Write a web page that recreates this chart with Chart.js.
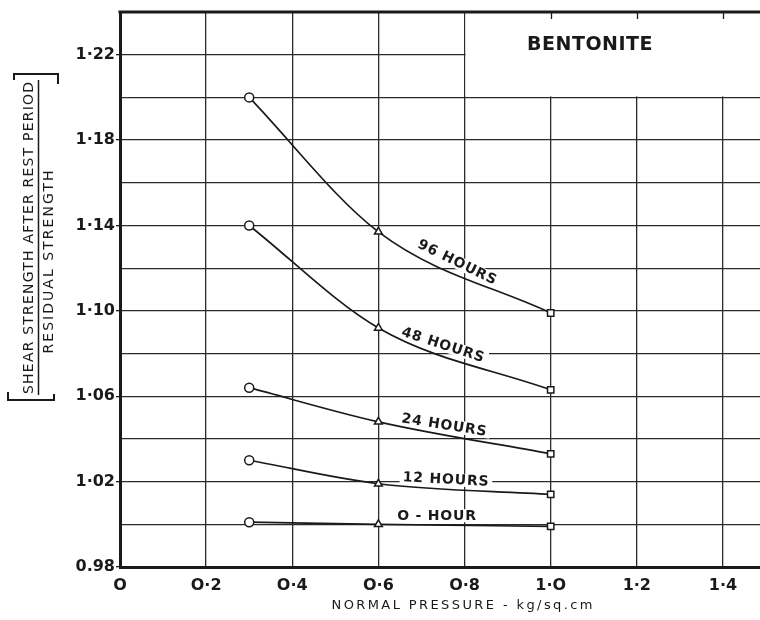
<!DOCTYPE html>
<html>
<head>
<meta charset="utf-8">
<script src="https://cdn.jsdelivr.net/npm/chart.js@4.4.1/dist/chart.umd.min.js"></script>
<style>
  html, body { margin: 0; padding: 0; background: #ffffff; }
  #wrap { width: 760px; height: 620px; }
</style>
</head>
<body>
<div id="wrap"><canvas id="c" width="760" height="620"></canvas></div>
<script>
// Normal pressure (kg/sq.cm) at which each rest-period test was run
const pressure = [0.3, 0.6, 1.0];

// Ratio: shear strength after rest period / residual strength
const hours96 = [1.200, 1.137, 1.099];
const hours48 = [1.140, 1.092, 1.063];
const hours24 = [1.064, 1.048, 1.033];
const hours12 = [1.030, 1.019, 1.014];
const hours0  = [1.001, 1.000, 0.999];

const seriesNames = ['96 HOURS', '48 HOURS', '24 HOURS', '12 HOURS', 'O - HOUR'];

// Axis tick labels
const xTickValues = [0, 0.2, 0.4, 0.6, 0.8, 1.0, 1.2, 1.4];
const xTickText   = ['O', 'O·2', 'O·4', 'O·6', 'O·8', '1·O', '1·2', '1·4'];
const yTickValues = [0.98, 1.02, 1.06, 1.10, 1.14, 1.18, 1.22];
const yTickText   = ['0.98', '1·02', '1·06', '1·10', '1·14', '1·18', '1·22'];

// Marker shapes used at each pressure
const markerShapes = ['circle', 'triangle', 'rect'];

const INK = '#1a1a1a';
const FONT = '"DejaVu Sans", sans-serif';

function toPoints(vals) {
  return pressure.map((p, i) => ({ x: p, y: vals[i] }));
}

function series(name, vals) {
  return {
    label: name,
    data: toPoints(vals),
    borderColor: INK,
    borderWidth: 1.7,
    backgroundColor: '#ffffff',
    pointStyle: markerShapes,
    pointRadius: 4.5,
    pointBorderWidth: 1.5,
    pointBorderColor: INK,
    pointBackgroundColor: '#ffffff',
    cubicInterpolationMode: 'monotone',
    fill: false
  };
}

function labelIndex(list, value) {
  return list.findIndex(v => Math.abs(v - value) < 1e-6);
}

// Curve captions placed along each line (data coordinates + rotation in degrees)
const captions = [
  { text: seriesNames[0], x: 0.783, y: 1.1225, angle: 26 },
  { text: seriesNames[1], x: 0.750, y: 1.0838, angle: 18 },
  { text: seriesNames[2], x: 0.753, y: 1.0463, angle: 9 },
  { text: seriesNames[3], x: 0.757, y: 1.0208, angle: 3 },
  { text: seriesNames[4], x: 0.736, y: 1.0038, angle: 0 }
];

function setCaptionFont(ctx) {
  ctx.font = 'bold 14px ' + FONT;
  ctx.letterSpacing = '0.8px';
}

function spacedText(ctx, text, cx, cy, target, font, rotate) {
  ctx.save();
  ctx.font = font;
  ctx.letterSpacing = '0px';
  const w0 = ctx.measureText(text).width;
  const sp = Math.max(0, (target - w0) / (text.length - 1));
  ctx.letterSpacing = sp.toFixed(2) + 'px';
  ctx.translate(cx, cy);
  if (rotate) ctx.rotate(-Math.PI / 2);
  ctx.textAlign = 'center';
  ctx.textBaseline = 'middle';
  ctx.fillText(text, sp / 2, 0);
  ctx.restore();
}

const decorations = {
  id: 'decorations',
  beforeDatasetsDraw(chart) {
    const { ctx, chartArea, scales } = chart;
    const xs = scales.x, ys = scales.y;
    ctx.save();
    // title panel in the upper right corner
    const bx = xs.getPixelForValue(0.8);
    const by = ys.getPixelForValue(1.20);
    ctx.fillStyle = '#ffffff';
    ctx.fillRect(bx + 1, chartArea.top + 1, chartArea.right - bx, by - chartArea.top - 2);
    ctx.strokeStyle = INK;
    ctx.lineWidth = 1.3;
    [1.0, 1.2, 1.4].forEach(v => {
      const px = Math.round(xs.getPixelForValue(v)) + 0.5;
      ctx.beginPath();
      ctx.moveTo(px, chartArea.top);
      ctx.lineTo(px, chartArea.top + 7);
      ctx.stroke();
    });
    // knock the grid out behind each caption
    setCaptionFont(ctx);
    ctx.fillStyle = '#ffffff';
    captions.forEach(c => {
      const px = xs.getPixelForValue(c.x), py = ys.getPixelForValue(c.y);
      const w = ctx.measureText(c.text).width + 6;
      ctx.save();
      ctx.translate(px, py);
      ctx.rotate(c.angle * Math.PI / 180);
      ctx.fillRect(-w / 2, -7, w, 13);
      ctx.restore();
    });
    ctx.restore();
  },
  afterDatasetsDraw(chart) {
    const { ctx, scales } = chart;
    const xs = scales.x, ys = scales.y;
    ctx.save();
    setCaptionFont(ctx);
    ctx.fillStyle = INK;
    ctx.textAlign = 'center';
    ctx.textBaseline = 'middle';
    captions.forEach(c => {
      const px = xs.getPixelForValue(c.x), py = ys.getPixelForValue(c.y);
      ctx.save();
      ctx.translate(px, py);
      ctx.rotate(c.angle * Math.PI / 180);
      ctx.fillText(c.text, 0, 0);
      ctx.restore();
    });
    ctx.restore();
  },
  afterDraw(chart) {
    const { ctx, chartArea } = chart;
    ctx.save();
    // heavy top frame line
    ctx.strokeStyle = INK;
    ctx.lineWidth = 3;
    ctx.beginPath();
    ctx.moveTo(chartArea.left - 1.5, chartArea.top);
    ctx.lineTo(chartArea.right, chartArea.top);
    ctx.stroke();

    // panel title
    ctx.fillStyle = INK;
    ctx.font = 'bold 19px ' + FONT;
    ctx.letterSpacing = '0.5px';
    ctx.textAlign = 'center';
    ctx.textBaseline = 'middle';
    ctx.fillText('BENTONITE', 590, 45);

    // y-axis title: fraction inside brackets, rotated
    spacedText(ctx, 'SHEAR STRENGTH AFTER REST PERIOD', 29, 238, 312, '14px ' + FONT, true);
    spacedText(ctx, 'RESIDUAL STRENGTH', 49, 262, 183, '14px ' + FONT, true);
    ctx.lineWidth = 1.5;
    ctx.beginPath();
    ctx.moveTo(38.5, 80); ctx.lineTo(38.5, 395);
    ctx.stroke();
    ctx.lineWidth = 2;
    ctx.beginPath();
    ctx.moveTo(8, 392); ctx.lineTo(8, 400); ctx.lineTo(54, 400); ctx.lineTo(54, 394);
    ctx.moveTo(14, 80); ctx.lineTo(14, 74); ctx.lineTo(58, 74); ctx.lineTo(58, 84);
    ctx.stroke();

    // x-axis title
    spacedText(ctx, 'NORMAL PRESSURE - kg/sq.cm', 462, 606, 261, '13px ' + FONT, false);
    ctx.restore();
  }
};

new Chart(document.getElementById('c'), {
  type: 'line',
  data: {
    datasets: [
      series(seriesNames[0], hours96),
      series(seriesNames[1], hours48),
      series(seriesNames[2], hours24),
      series(seriesNames[3], hours12),
      series(seriesNames[4], hours0)
    ]
  },
  options: {
    responsive: false,
    animation: false,
    devicePixelRatio: 1,
    layout: { autoPadding: false, padding: { top: 12, left: 0, right: 0, bottom: 0 } },
    plugins: {
      legend: { display: false },
      tooltip: { enabled: false },
      title: { display: false }
    },
    scales: {
      x: {
        type: 'linear',
        min: 0,
        max: 1.486,
        afterFit(scale) {
          scale.height = 53;
          scale.paddingLeft = 0;
          scale.paddingRight = 0;
        },
        afterBuildTicks(scale) {
          scale.ticks = xTickValues.map(v => ({ value: v }));
        },
        ticks: {
          autoSkip: false,
          maxRotation: 0,
          padding: 9,
          color: INK,
          font: { family: FONT, size: 16, weight: 'bold' },
          callback(value) {
            const i = labelIndex(xTickValues, value);
            return i >= 0 ? xTickText[i] : '';
          }
        },
        grid: { color: '#2a2a2a', lineWidth: 1.3, drawTicks: false },
        border: { display: true, color: INK, width: 3 }
      },
      y: {
        type: 'linear',
        min: 0.98,
        max: 1.24,
        afterFit(scale) {
          scale.width = 120;
          scale.paddingTop = 0;
          scale.paddingBottom = 0;
        },
        ticks: {
          stepSize: 0.02,
          autoSkip: false,
          padding: 1,
          color: INK,
          font: { family: FONT, size: 16, weight: 'bold' },
          callback(value) {
            const i = labelIndex(yTickValues, value);
            return i >= 0 ? yTickText[i] : '';
          }
        },
        grid: {
          color: '#2a2a2a',
          lineWidth: 1.3,
          tickLength: 4,
          tickColor(ctx) {
            return ctx.tick && labelIndex(yTickValues, ctx.tick.value) >= 0 ? INK : 'rgba(0,0,0,0)';
          }
        },
        border: { display: true, color: INK, width: 3 }
      }
    }
  },
  plugins: [decorations]
});
</script>
</body>
</html>
